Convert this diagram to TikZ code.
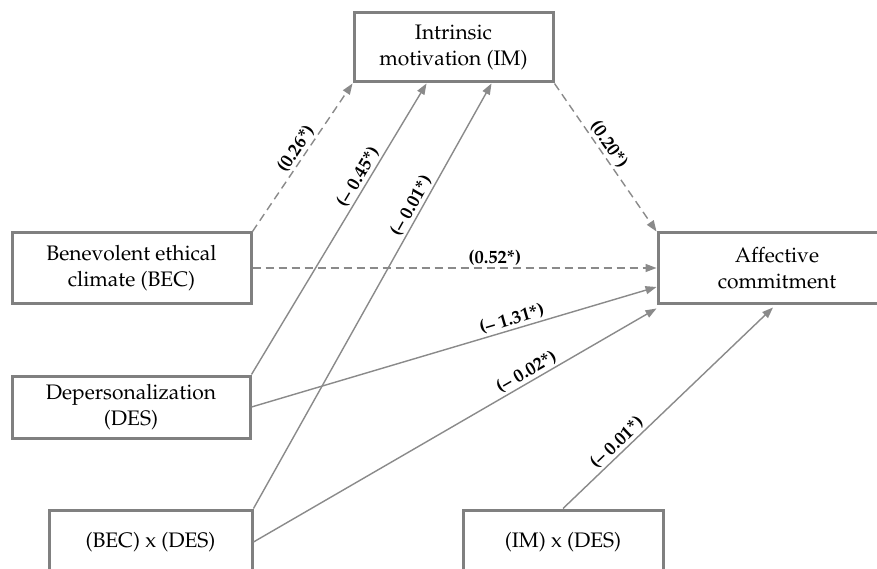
\documentclass[tikz,border=0pt]{standalone}
\usepackage[T1]{fontenc}
\usepackage{mathpazo}
\usetikzlibrary{arrows.meta,calc}
\definecolor{boxgray}{HTML}{808080}
\definecolor{linegray}{HTML}{8A8A8A}
\tikzset{
  varbox/.style={draw=boxgray, line width=3pt, fill=white, align=center,
    inner sep=0pt, font=\fontsize{21}{26}\selectfont},
  conn/.style={draw=linegray, line width=1.4pt, -{Triangle[length=11pt,width=8pt]}},
  dconn/.style={conn, dash pattern=on 8pt off 5pt},
  coef/.style={font=\fontsize{18.5}{22}\selectfont\bfseries, sloped, above, inner sep=2pt}
}
\begin{document}
\begin{tikzpicture}[x=1pt,y=-1pt]
\clip (0,0) rectangle (877,569);
\fill[white] (0,0) rectangle (877,569);
\node[varbox, minimum width=199pt, minimum height=69pt] (IM) at (453.5,47.5) {Intrinsic\\motivation (IM)};
\node[varbox, minimum width=238pt, minimum height=70pt] (AC) at (777,268) {Affective\\commitment};
\node[varbox, minimum width=239pt, minimum height=70pt] (BEC) at (131.5,268) {Benevolent ethical\\climate (BEC)};
\node[varbox, minimum width=238pt, minimum height=62pt] (DES) at (131,407) {Depersonalization\\(DES)};
\node[varbox, minimum width=203pt, minimum height=64pt] (BXD) at (150.5,542) {(BEC) x (DES)};
\node[varbox, minimum width=200pt, minimum height=64pt] (IXD) at (563,542) {(IM) x (DES)};

\draw[dconn] (BEC.north east) -- node[coef, pos=0.52] {(0.26*)} (IM.south west);
\draw[conn] (DES.north east) -- node[coef, pos=0.66] {(-- 0.45*)} ([xshift=74pt]IM.south west);
\draw[conn] (BXD.north east) -- node[coef, pos=0.70] {(-- 0.01*)} ([xshift=139pt]IM.south west);
\draw[dconn] (IM.south east) -- node[coef, pos=0.45] {(0.20*)} (AC.north west);
\draw[dconn] (BEC.east) -- node[coef, pos=0.6] {(0.52*)} (AC.west);
\draw[conn] (DES.east) -- node[coef, pos=0.65] {(-- 1.31*)} ([yshift=-19pt]AC.west);
\draw[conn] (BXD.east) -- node[coef, pos=0.69] {(-- 0.02*)} ([yshift=-4pt]AC.south west);
\draw[conn] (IXD.north) -- node[coef, pos=0.29] {(-- 0.01*)} ([xshift=-4pt,yshift=-3pt]AC.south);
\end{tikzpicture}
\end{document}
